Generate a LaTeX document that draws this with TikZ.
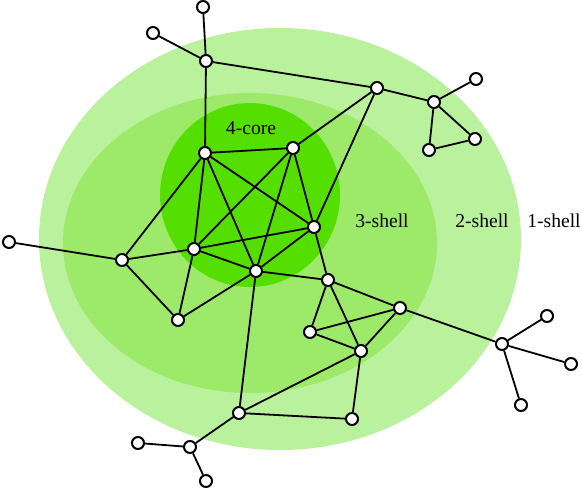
\documentclass[tikz,border=0pt]{standalone}
\usepackage{fontspec}
\setmainfont{Liberation Serif}
\usetikzlibrary{positioning}
\definecolor{cShellOne}{HTML}{BAF19C}
\definecolor{cShellTwo}{HTML}{9DEA6A}
\definecolor{cCore}{HTML}{55DF00}

\begin{document}
\begin{tikzpicture}[
    x=0.5pt, y=-0.5pt,
    vtx/.style={circle, draw=black, fill=white, line width=1pt,
                minimum size=6pt, inner sep=0pt},
    link/.style={line width=0.9pt, draw=black},
    lbl/.style={font=\fontsize{9.8}{12}\selectfont, inner sep=0pt},
  ]
  \useasboundingbox (0,0) rectangle (582,488);
  % shells
  \fill[cShellOne] (280,239) ellipse [x radius=120.5pt, y radius=105.5pt];
  \fill[cShellTwo] (250,243) ellipse [x radius=93.5pt, y radius=75pt];
  \fill[cCore] (250,195) ellipse [x radius=45pt, y radius=46pt];
  \node[lbl] (lcore) at (251,128) {4-core};
  \node[lbl] (lthree) at (382,221) {3-shell};
  \node[lbl] (ltwo) at (482,221) {2-shell};
  \node[lbl] (lone) at (554,221) {1-shell};
  % core
  \node[vtx] (k1) at (205,153) {};
  \node[vtx] (k2) at (293,148) {};
  \node[vtx] (k3) at (314,227) {};
  \node[vtx] (k4) at (194,249) {};
  \node[vtx] (k5) at (256,271) {};
  % upper part
  \node[vtx] (top) at (203,7) {};
  \node[vtx] (topl) at (153,33) {};
  \node[vtx] (hub) at (206,61) {};
  \node[vtx] (nr) at (377,88) {};
  \node[vtx] (tri) at (434,102) {};
  \node[vtx] (tril) at (476,79) {};
  \node[vtx] (trir) at (475,139) {};
  \node[vtx] (trib) at (429,150) {};
  % left part
  \node[vtx] (far) at (9,242) {};
  \node[vtx] (lm) at (122,260) {};
  \node[vtx] (lb) at (178,320) {};
  % right part
  \node[vtx] (ra) at (328,280) {};
  \node[vtx] (rb) at (400,308) {};
  \node[vtx] (rc) at (310,332) {};
  \node[vtx] (rd) at (361,351) {};
  \node[vtx] (star) at (502,344) {};
  \node[vtx] (sa) at (547,316) {};
  \node[vtx] (sb) at (571,364) {};
  \node[vtx] (sc) at (521,405) {};
  % lower part
  \node[vtx] (bw) at (239,413) {};
  \node[vtx] (bx) at (352,419) {};
  \node[vtx] (by) at (190,447) {};
  \node[vtx] (bz) at (138,443) {};
  \node[vtx] (bq) at (206,481) {};
  % edges
  \draw[link] (k1) -- (k2);
  \draw[link] (k1) -- (k3);
  \draw[link] (k1) -- (k4);
  \draw[link] (k1) -- (k5);
  \draw[link] (k2) -- (k3);
  \draw[link] (k2) -- (k4);
  \draw[link] (k2) -- (k5);
  \draw[link] (k3) -- (k4);
  \draw[link] (k3) -- (k5);
  \draw[link] (k4) -- (k5);
  \draw[link] (top) -- (hub);
  \draw[link] (topl) -- (hub);
  \draw[link] (hub) -- (k1);
  \draw[link] (hub) -- (nr);
  \draw[link] (nr) -- (tri);
  \draw[link] (nr) -- (k2);
  \draw[link] (nr) -- (k3);
  \draw[link] (tri) -- (tril);
  \draw[link] (tri) -- (trir);
  \draw[link] (tri) -- (trib);
  \draw[link] (trir) -- (trib);
  \draw[link] (far) -- (lm);
  \draw[link] (lm) -- (k1);
  \draw[link] (lm) -- (k4);
  \draw[link] (lm) -- (lb);
  \draw[link] (lb) -- (k4);
  \draw[link] (lb) -- (k5);
  \draw[link] (k5) -- (ra);
  \draw[link] (k3) -- (ra);
  \draw[link] (k5) -- (bw);
  \draw[link] (ra) -- (rb);
  \draw[link] (ra) -- (rc);
  \draw[link] (ra) -- (rd);
  \draw[link] (rc) -- (rb);
  \draw[link] (rc) -- (rd);
  \draw[link] (rb) -- (rd);
  \draw[link] (rb) -- (star);
  \draw[link] (star) -- (sa);
  \draw[link] (star) -- (sb);
  \draw[link] (star) -- (sc);
  \draw[link] (rd) -- (bw);
  \draw[link] (rd) -- (bx);
  \draw[link] (bw) -- (bx);
  \draw[link] (bw) -- (by);
  \draw[link] (by) -- (bz);
  \draw[link] (by) -- (bq);
\end{tikzpicture}
\end{document}
